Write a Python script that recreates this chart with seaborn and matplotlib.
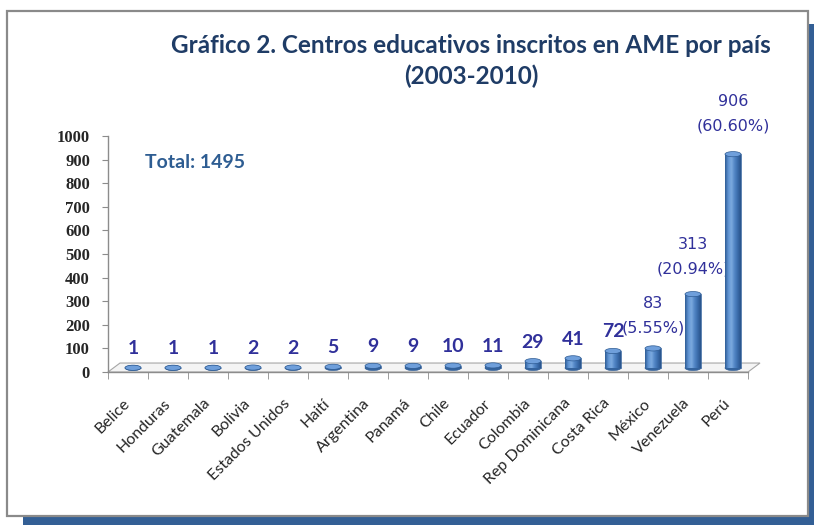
import numpy as np
import pandas as pd
import matplotlib.pyplot as plt
import seaborn as sns
from matplotlib.colors import LinearSegmentedColormap
from matplotlib.patches import Rectangle, Ellipse, Polygon

# chart data
countries = ['Belice', 'Honduras', 'Guatemala', 'Bolivia', 'Estados Unidos', 'Haití',
             'Argentina', 'Panamá', 'Chile', 'Ecuador', 'Colombia', 'Rep Dominicana',
             'Costa Rica', 'México', 'Venezuela', 'Perú']
centros = [1, 1, 1, 2, 2, 5, 9, 9, 10, 11, 29, 41, 72, 83, 313, 906]
pct_countries = ['México', 'Venezuela', 'Perú']
total_label = 'Total: 1495'
title_text = 'Gráfico 2. Centros educativos inscritos en AME por país\n(2003-2010)'

df = pd.DataFrame({'Pais': countries, 'Centros': centros})
total = df['Centros'].sum()

W, H = 814, 525
LABEL_COLOR = '#30309a'
BAR_SHIFT = 0.125      # 3d depth shift of the bars (x, category units)
BAR_LIFT = 17          # 3d depth shift of the bars (y, data units)
# pixel offsets above bar top for (value, percent) labels
big_offsets = {'México': (45, 20), 'Venezuela': (50, 25), 'Perú': (53, 28)}

sns.set_style('white')
fig = plt.figure(figsize=(W / 100, H / 100), dpi=100)


def fx(px):
    return px / W


def fy(py):
    return 1 - py / H


# frame and shadow
shadow = '#335f95'
fig.add_artist(Rectangle((fx(809), 0), fx(5), 1 - 24 / H, transform=fig.transFigure,
                         facecolor=shadow, edgecolor='none', zorder=0))
fig.add_artist(Rectangle((fx(23), 0), fx(791), 8 / H, transform=fig.transFigure,
                         facecolor=shadow, edgecolor='none', zorder=0))
fig.add_artist(Rectangle((fx(7), fy(516)), fx(801), 505 / H, transform=fig.transFigure,
                         facecolor='white', edgecolor='#8a8a8a', linewidth=1.6, zorder=0.5))

ax = fig.add_axes([fx(108), fy(372), fx(640), 236 / H])
ax.set_facecolor('none')
ax.set_zorder(2)

sns.barplot(data=df, x='Pais', y='Centros', color='#4a7dbb', width=0.4,
            saturation=1, ax=ax, zorder=3)

cmap = LinearSegmentedColormap.from_list(
    'cyl', ['#2d5b94', '#5f93d3', '#7dabe0', '#5286c6', '#3b6cab', '#28538a'])
grad = np.linspace(0, 1, 64).reshape(1, -1)

for patch in ax.patches[:len(centros)]:
    x0 = patch.get_x() + BAR_SHIFT
    w = patch.get_width()
    h = patch.get_height()
    patch.set_x(x0)
    patch.set_y(BAR_LIFT)
    patch.set_edgecolor('#2d5a92')
    patch.set_linewidth(0.4)
    im = ax.imshow(grad, extent=[x0, x0 + w, BAR_LIFT, BAR_LIFT + h], aspect='auto',
                   cmap=cmap, zorder=3.1, interpolation='bicubic')
    im.set_clip_path(patch)
    ax.add_patch(Ellipse((x0 + w / 2, BAR_LIFT), w, 22, facecolor='#34639e',
                         edgecolor='#2d5a92', linewidth=0.4, zorder=2.9))
    ax.add_patch(Ellipse((x0 + w / 2, BAR_LIFT + h), w, 22, facecolor='#6f9fdb',
                         edgecolor='#2d5a92', linewidth=0.5, zorder=3.2))

# floor of the 3d chart
ax.add_patch(Polygon([(-0.5, 0), (15.5, 0), (15.8, 38), (-0.2, 38)], closed=True,
                     facecolor='#f4f4f4', edgecolor='#a6a6a6', linewidth=0.8,
                     zorder=1, clip_on=False))

ax.set_xlim(-0.5, 15.5)
ax.set_ylim(0, 1000)

# value labels
for i, (name, v) in enumerate(zip(countries, centros)):
    xc = i + BAR_SHIFT
    top = v + BAR_LIFT
    if name in pct_countries:
        off_v, off_p = big_offsets[name]
        ax.annotate(str(v), (xc, top), xytext=(0, off_v), textcoords='offset pixels',
                    ha='center', va='center', fontsize=11.5, color=LABEL_COLOR,
                    family='DejaVu Sans', annotation_clip=False)
        ax.annotate(f'({v / total * 100:.2f}%)', (xc, top), xytext=(0, off_p),
                    textcoords='offset pixels', ha='center', va='center',
                    fontsize=11.5, color=LABEL_COLOR, family='DejaVu Sans',
                    annotation_clip=False)
    else:
        ax.annotate(str(v), (xc, top), xytext=(0, 19), textcoords='offset pixels',
                    ha='center', va='center', fontsize=14, fontweight='bold',
                    color=LABEL_COLOR, family='Lato', annotation_clip=False)

# axes styling
for side in ['top', 'right']:
    ax.spines[side].set_visible(False)
for side in ['left', 'bottom']:
    ax.spines[side].set_color('#8c8c8c')
    ax.spines[side].set_linewidth(1.0)

ax.set_yticks(range(0, 1001, 100))
ax.set_yticklabels([str(t) for t in range(0, 1001, 100)], family='Liberation Serif',
                   fontweight='bold', fontsize=12)
ax.tick_params(axis='y', left=True, length=4, color='#8c8c8c', pad=9)

ax.set_xticks(range(len(countries)))
ax.set_xticks(np.arange(-0.5, len(countries)), minor=True)
ax.set_xticklabels(countries, rotation=45, ha='right', va='center',
                   rotation_mode='anchor', family='Lato', fontsize=11.5)
ax.tick_params(axis='x', which='major', bottom=False, length=0, pad=21)
ax.tick_params(axis='x', which='minor', bottom=True, length=5, color='#8c8c8c')
ax.set_xlabel('')
ax.set_ylabel('')

fig.text(fx(471), fy(61), title_text, ha='center', va='center', fontsize=17.5,
         fontweight='bold', color='#1f3c66', family='Lato', linespacing=1.38)
fig.text(fx(145), fy(163), total_label, ha='left', va='center', fontsize=14,
         fontweight='bold', color='#2e5d92', family='Lato')

fig.savefig('out.png', dpi=100, facecolor='white')
